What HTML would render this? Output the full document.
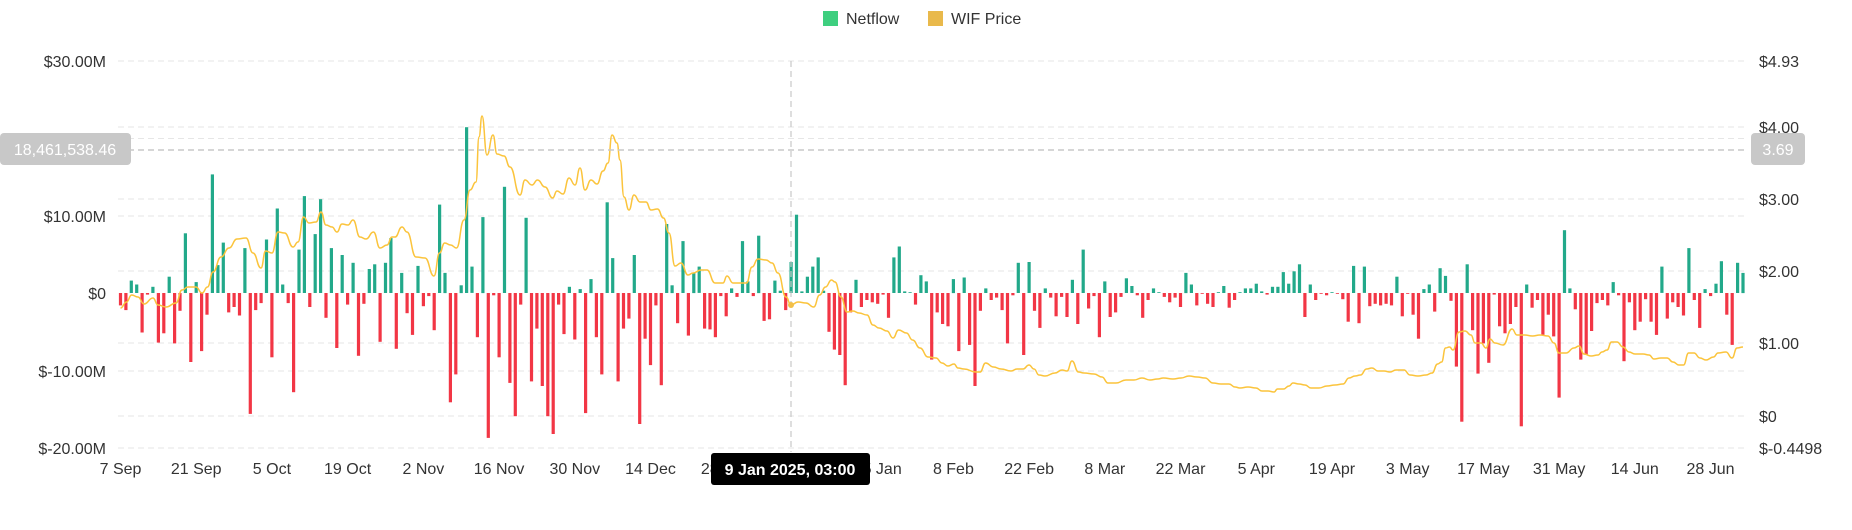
<!DOCTYPE html>
<html><head><meta charset="utf-8">
<style>
html,body{margin:0;padding:0;background:#fff;}
body{width:1852px;height:525px;overflow:hidden;font-family:"Liberation Sans",sans-serif;}
svg text{font-family:"Liberation Sans",sans-serif;}
</style></head>
<body>
<svg id="c" width="1852" height="525" xmlns="http://www.w3.org/2000/svg">
<g id="grid" stroke="#e6e6e6" stroke-width="1" stroke-dasharray="6,4">
<line x1="118" x2="1746" y1="61" y2="61"/>
<line x1="118" x2="1746" y1="127" y2="127"/>
<line x1="118" x2="1746" y1="138.5" y2="138.5"/>
<line x1="118" x2="1746" y1="199" y2="199"/>
<line x1="118" x2="1746" y1="216" y2="216"/>
<line x1="118" x2="1746" y1="271" y2="271"/>
<line x1="118" x2="1746" y1="343" y2="343"/>
<line x1="118" x2="1746" y1="371" y2="371"/>
<line x1="118" x2="1746" y1="416" y2="416"/>
<line x1="118" x2="1746" y1="448" y2="448"/>
</g>
<g id="bars"></g>
<path id="price" fill="none" stroke="#fbc43c" stroke-width="1.5" stroke-linejoin="round"/>
<line x1="118" x2="1746" y1="150" y2="150" stroke="#c8c8c8" stroke-width="1.5" stroke-dasharray="6,4"/>
<line x1="791" x2="791" y1="61" y2="452" stroke="#c8c8c8" stroke-width="1.2" stroke-dasharray="6,4"/>
<circle cx="791" cy="305" r="3" fill="#f2c04a"/>
<g font-size="16" fill="#333" text-anchor="end">
<text x="106" y="67">$30.00M</text>
<text x="106" y="222">$10.00M</text>
<text x="106" y="299">$0</text>
<text x="106" y="377">$-10.00M</text>
<text x="106" y="454">$-20.00M</text>
</g>
<g font-size="16" fill="#333">
<text x="1759" y="67">$4.93</text>
<text x="1759" y="133">$4.00</text>
<text x="1759" y="205">$3.00</text>
<text x="1759" y="277">$2.00</text>
<text x="1759" y="349">$1.00</text>
<text x="1759" y="422">$0</text>
<text x="1759" y="454">$-0.4498</text>
</g>
<g id="xl" font-size="16" fill="#333" text-anchor="middle"></g>
<rect x="0" y="133" width="131" height="32" rx="4" fill="#c8c8c8"/>
<text x="65" y="155" font-size="16" fill="#fff" text-anchor="middle">18,461,538.46</text>
<rect x="1751" y="133" width="54" height="32" rx="4" fill="#c8c8c8"/>
<text x="1778" y="155" font-size="16" fill="#fff" text-anchor="middle">3.69</text>
<rect x="711" y="453" width="159" height="32" rx="3" fill="#000"/>
<text x="790" y="475" font-size="16" font-weight="bold" fill="#fff" text-anchor="middle">9 Jan 2025, 03:00</text>
<rect x="823" y="11" width="15" height="15" fill="#3ecf7f"/>
<text x="846" y="24" font-size="16" fill="#333">Netflow</text>
<rect x="928" y="11" width="15" height="15" fill="#e9b94b"/>
<text x="951" y="24" font-size="16" fill="#333">WIF Price</text>
</svg>
<script>
var v=[-1.6,-2.2,1.6,1.1,-5.1,-0.2,0.8,-6.4,-5.2,2.1,-6.5,-2.3,7.7,-8.9,1.4,-7.5,-2.8,15.3,3.6,6.5,-2.5,-1.8,-2.9,5.8,-15.6,-2.2,-1.3,6.9,-8.3,10.9,1.1,-1.3,-12.8,5.6,12.5,-1.8,7.6,12.1,-3.2,5.8,-7.1,4.9,-1.5,3.9,-8.1,-1.4,3.1,3.7,-6.3,3.9,7.1,-7.2,2.6,-2.6,-5.4,3.5,-1.7,-0.4,-4.8,11.4,2.6,-14.1,-10.5,1.0,21.4,3.4,-5.7,9.8,-18.7,-0.3,-8.3,13.7,-11.6,-15.9,-1.5,9.7,-11.4,-4.6,-12.0,-15.9,-18.2,-1.5,-5.3,0.8,-6.0,0.5,-15.5,1.8,-5.7,-10.5,11.7,4.5,-11.4,
-4.6,-3.3,4.9,-16.9,-5.9,-9.3,-1.6,-11.9,8.9,1.0,-3.9,6.7,-5.5,2.6,3.4,-4.6,-4.7,-5.7,-0.4,-3.0,0.6,-0.5,6.7,1.5,-0.4,7.4,-3.6,-3.4,1.6,0.3,-2.2,4.0,10.1,0.2,2.1,3.4,4.6,0.3,-5.0,-7.3,-8.0,-11.9,-2.5,1.7,-1.8,-0.9,-1.2,-1.4,-0.2,-3.2,4.6,6.0,0.2,0.1,-1.5,2.3,1.5,-8.6,-2.5,-4.0,-4.3,1.8,-7.5,2.0,-6.7,-12.0,-2.3,0.6,-0.9,-0.6,-2.2,-6.5,-0.3,3.9,-8.0,4.0,-2.3,-4.5,0.6,-0.6,-3.0,-0.5,-3.1,1.7,-4.0,5.6,-2.0,-0.4,-5.7,1.5,-3.1,-2.5,-0.5,1.9,0.9,-0.3,-3.2,-0.9,0.6,0.1,-0.5,-1.2,-0.6,-1.8,2.6,1.1,-1.6,-0.1,-1.4,-1.8,0.1,0.9,-1.9,-0.9,0.1,
0.6,0.6,1.2,0.2,-0.2,0.8,0.8,2.7,1.2,2.8,3.7,-3.1,1.1,-0.9,-0.1,-0.3,0.1,-0.1,-0.8,-3.7,3.5,-3.9,3.4,-1.7,-1.4,-1.6,-1.4,-1.6,2.1,-3.0,-0.1,-2.8,-5.9,0.5,1.1,-2.4,3.2,2.2,-1.0,-9.5,-16.6,3.7,-4.8,-10.4,-6.5,-9.0,-0.2,-4.3,-5.2,-4.0,-1.8,-17.2,1.1,-1.9,-0.9,-5.4,-2.8,-5.6,-13.5,8.1,0.6,-2.1,-8.6,-8.0,-4.9,-1.3,-0.9,-1.6,1.4,-0.3,-8.8,-1.2,-4.8,-3.7,-0.8,-3.7,-5.4,3.4,-3.3,-1.2,-1.8,-2.9,5.8,-0.9,-4.5,0.5,-0.4,1.2,4.1,-2.8,-6.7,3.9,2.6];
var n=v.length,x0=120.5,x1=1743,sp=(x1-x0)/(n-1),s='';
for(var i=0;i<n;i++){var x=x0+i*sp,h=v[i]*7.75,y=h>0?293-h:293;
s+='<rect x="'+(x-1.6).toFixed(1)+'" y="'+y.toFixed(1)+'" width="3.2" height="'+Math.max(Math.abs(h),0.6).toFixed(1)+'" fill="'+(v[i]>=0?'#22a98a':'#f23645')+'"/>';}
document.getElementById('bars').innerHTML=s;
var p=[[120.5,308],[126.5,302],[131.6,295],[138,297],[144,304],[153,298],[158,305],[166,307],[176,303],[182,290],[188,287],[196,287],[202,293],[207.5,287],[213,272],[221,257],[229,248],[237,239],[246,238],[253,253],[261,268],[265.6,251],[272,253],[278,232],[284.6,233],[293,247],[298,242],[303.6,217],[309,223],[316,222],[321,212],[326,225],[332,227],[337,232],[342,224],[348,225],[353,220],[360,237],[366,239],[373.5,232],[380,248],[387,245],[392,237],[395,237],[402,227],[407,232],[416,257],[425,258],[434,276],[439.5,253],[444.7,243],[450.6,245],[456.5,248],[464,220],[470,190],[476,182],[479,137],[482,116],[487,155],[493,135],[497,154],[504,156],[510,167],[520,195],[525,180],[532,185],[537.5,180],[545,187],[552.6,198],[557,191],[563,194],[569,178],[575,185],[580,168],[585,190],[591,180],[597,184],[603,171],[608,163],[612,135],[617,143],[620,160],[624,197],[629,210],[634,195],[640,202],[646,202],[651,210],[657.5,209],[663.5,218],[669,233],[675,266],[681,263],[688,275],[693,273],[701,270],[707,270],[715,283],[723,283],[727,276],[733,283],[738.6,283],[746.5,283],[752,267],[758,259],[766,260],[772,263],[778,273],[786,297],[791,305],[798,302],[806,303],[813.7,307],[819.6,295],[825.5,287],[831.5,280],[835,282],[841,297],[847,312],[853,311],[859,313],[867,315],[873,325],[879,328],[887,331],[893,338],[898.6,330],[906.5,333],[912.5,340],[920,348],[928,357],[936,358],[942,363],[948,366],[954,364],[958,368],[964,369],[976,372],[980,372],[985.6,363],[993.5,367],[1001,369],[1011,371],[1017,369],[1023,369],[1029,365],[1034,369],[1039,375],[1045,376],[1055,373],[1062,370],[1067,371],[1072,361],[1078.5,372],[1084,373],[1094,374],[1102,377],[1108,383],[1116,383],[1126,380],[1134,380],[1142,378],[1150,380],[1157.5,379],[1163.5,378],[1173,379],[1181,378],[1189,376],[1197,377],[1205,378],[1213,383],[1221,384],[1229,384],[1235,387],[1240,388],[1248,387],[1256,388],[1262,391],[1268,391],[1274,392],[1277.5,389],[1283.5,389],[1289,386],[1293,383],[1299,384],[1305,385],[1311,388],[1319,388],[1327,386],[1335,385],[1343,384],[1349,378],[1355,376],[1360.5,375],[1366.5,369],[1372,368],[1378,371],[1384,371],[1390,372],[1396,370],[1404,370],[1410,375],[1418,376],[1426,375],[1432,373],[1437.6,364],[1441.6,362],[1445.5,348],[1449.5,347],[1453,350],[1459,332],[1465,331],[1471,335],[1475,343],[1481,343],[1486,348],[1490,339],[1495,343],[1503,345],[1512,329],[1517,335],[1524.6,335],[1532.5,336],[1540,335],[1548,336],[1554,343],[1559,353],[1566,353],[1574,348],[1579,346],[1584,354],[1591,356],[1598,355],[1602,352],[1607,350],[1611.5,342],[1617,342],[1623,347],[1629,352],[1635,354],[1643,354],[1649,355],[1654,359],[1661,358],[1667,358],[1673,362],[1679,365],[1683.5,365],[1688.6,353],[1694,353],[1700,358],[1706,360],[1713.5,357],[1718,353],[1726,352],[1732,358],[1737,348],[1743,347]];
var d='M'+p[0][0]+','+p[0][1];
for(var j=1;j<p.length;j++){var a=p[j-1],b=p[j],mx=(a[0]+b[0])/2;d+=' C'+mx+','+a[1]+' '+mx+','+b[1]+' '+b[0]+','+b[1];}
document.getElementById('price').setAttribute('d',d);
var L=['7 Sep','21 Sep','5 Oct','19 Oct','2 Nov','16 Nov','30 Nov','14 Dec','28 Dec','11 Jan','25 Jan','8 Feb','22 Feb','8 Mar','22 Mar','5 Apr','19 Apr','3 May','17 May','31 May','14 Jun','28 Jun'];
var t='';for(var k=0;k<L.length;k++){t+='<text x="'+(x0+k*14*sp).toFixed(1)+'" y="474">'+L[k]+'</text>';}
document.getElementById('xl').innerHTML=t;
</script>
</body></html>
